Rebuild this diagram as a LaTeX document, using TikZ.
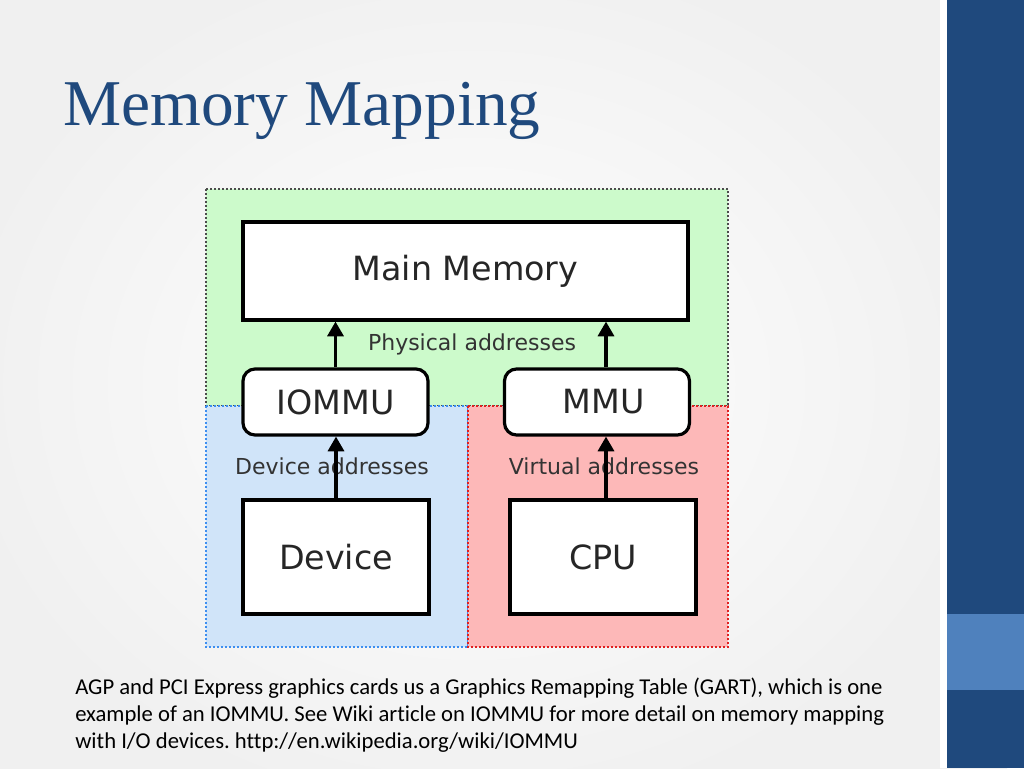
\documentclass[tikz,border=0pt]{standalone}
\usepackage{fontspec}
\setmainfont{Carlito}[Ligatures=NoCommon]
\newfontfamily\titlefont{Liberation Serif}
\newfontfamily\diafont{DejaVu Sans}
\usetikzlibrary{arrows.meta}
\frenchspacing

\definecolor{slideblue}{HTML}{1F497D}
\definecolor{bandlight}{HTML}{4F81BD}
\definecolor{physgreen}{HTML}{CCFACB}
\definecolor{devblue}{HTML}{D0E4F9}
\definecolor{virtred}{HTML}{FDB8B8}
\definecolor{dotblue}{HTML}{3D8EF0}
\definecolor{dotred}{HTML}{E02020}
\definecolor{labelgray}{HTML}{333333}

\tikzset{
  unit/.style={draw,line width=2.4pt,fill=white,text=black!85,
    font=\diafont\fontsize{25}{28}\selectfont,inner sep=0pt},
  mmubox/.style={unit,rounded corners=9pt,minimum width=138.75pt,minimum height=49.5pt},
  srcbox/.style={unit,minimum width=139.5pt,minimum height=85.5pt},
  addrlabel/.style={text=labelgray,font=\diafont\fontsize{16.5}{19}\selectfont},
  region/.style={line width=1.5pt,dash pattern=on 1.5pt off 1.5pt},
  uparrow/.style={line width=2.4pt,-{Triangle[length=11pt,width=12pt]}},
  captionline/.style={anchor=base west,inner sep=0pt,font=\fontsize{17}{20}\selectfont}
}

\begin{document}
\begin{tikzpicture}[x=0.75pt,y=-0.75pt]
  \useasboundingbox (0,0) rectangle (1024,768);
  \shade[inner color=white,outer color=black!6] (-60,-60) rectangle (1007,828);
  \fill[white] (940,0) rectangle (947,768);
  \fill[slideblue] (947,0) rectangle (1024,768);
  \fill[bandlight] (947,614) rectangle (1024,690);

  \node[anchor=base west,inner sep=0pt,text=slideblue,
    font=\titlefont\fontsize{49}{55}\selectfont] (title) at (63,125) {Memory Mapping};

  \filldraw[physgreen,draw=black!70,region] (206,189) rectangle (728,406);
  \filldraw[devblue,draw=dotblue,region] (206,406) rectangle (468,647);
  \filldraw[virtred,draw=dotred,region] (468,406) rectangle (728,647);

  \node[unit,minimum width=333.75pt,minimum height=73.5pt] (mem) at (465.5,271) {Main Memory};
  \node[mmubox] (iommu) at (335.5,402) {IOMMU};
  \node[mmubox] (mmu) at (597,402) {\hspace{10pt}MMU};
  \node[srcbox] (dev) at (336,557) {Device};
  \node[srcbox] (cpu) at (603,557) {CPU};

  \node[addrlabel] (phys) at (472,344) {Physical addresses};
  \node[addrlabel] (devaddr) at (332,466) {Device addresses};
  \node[addrlabel] (virtaddr) at (604,466) {Virtual addresses};

  \draw[uparrow] (iommu.north) -- (iommu.north |- mem.south);
  \draw[uparrow] ([xshift=6.75pt]mmu.north) -- ([xshift=6.75pt]mmu.north |- mem.south);
  \draw[uparrow] (dev.north) -- (dev.north |- iommu.south);
  \draw[uparrow] ([xshift=2.25pt]cpu.north) -- ([xshift=2.25pt]cpu.north |- mmu.south);

  \node[captionline] (cap1) at (75,694) {AGP and PCI Express graphics cards us a Graphics Remapping Table (GART), which is one};
  \node[captionline] (cap2) at (75,721) {example of an IOMMU. See Wiki article on IOMMU for more detail on memory mapping};
  \node[captionline] (cap3) at (75,748) {with I/O devices. http://en.wikipedia.org/wiki/IOMMU};
\end{tikzpicture}
\end{document}
